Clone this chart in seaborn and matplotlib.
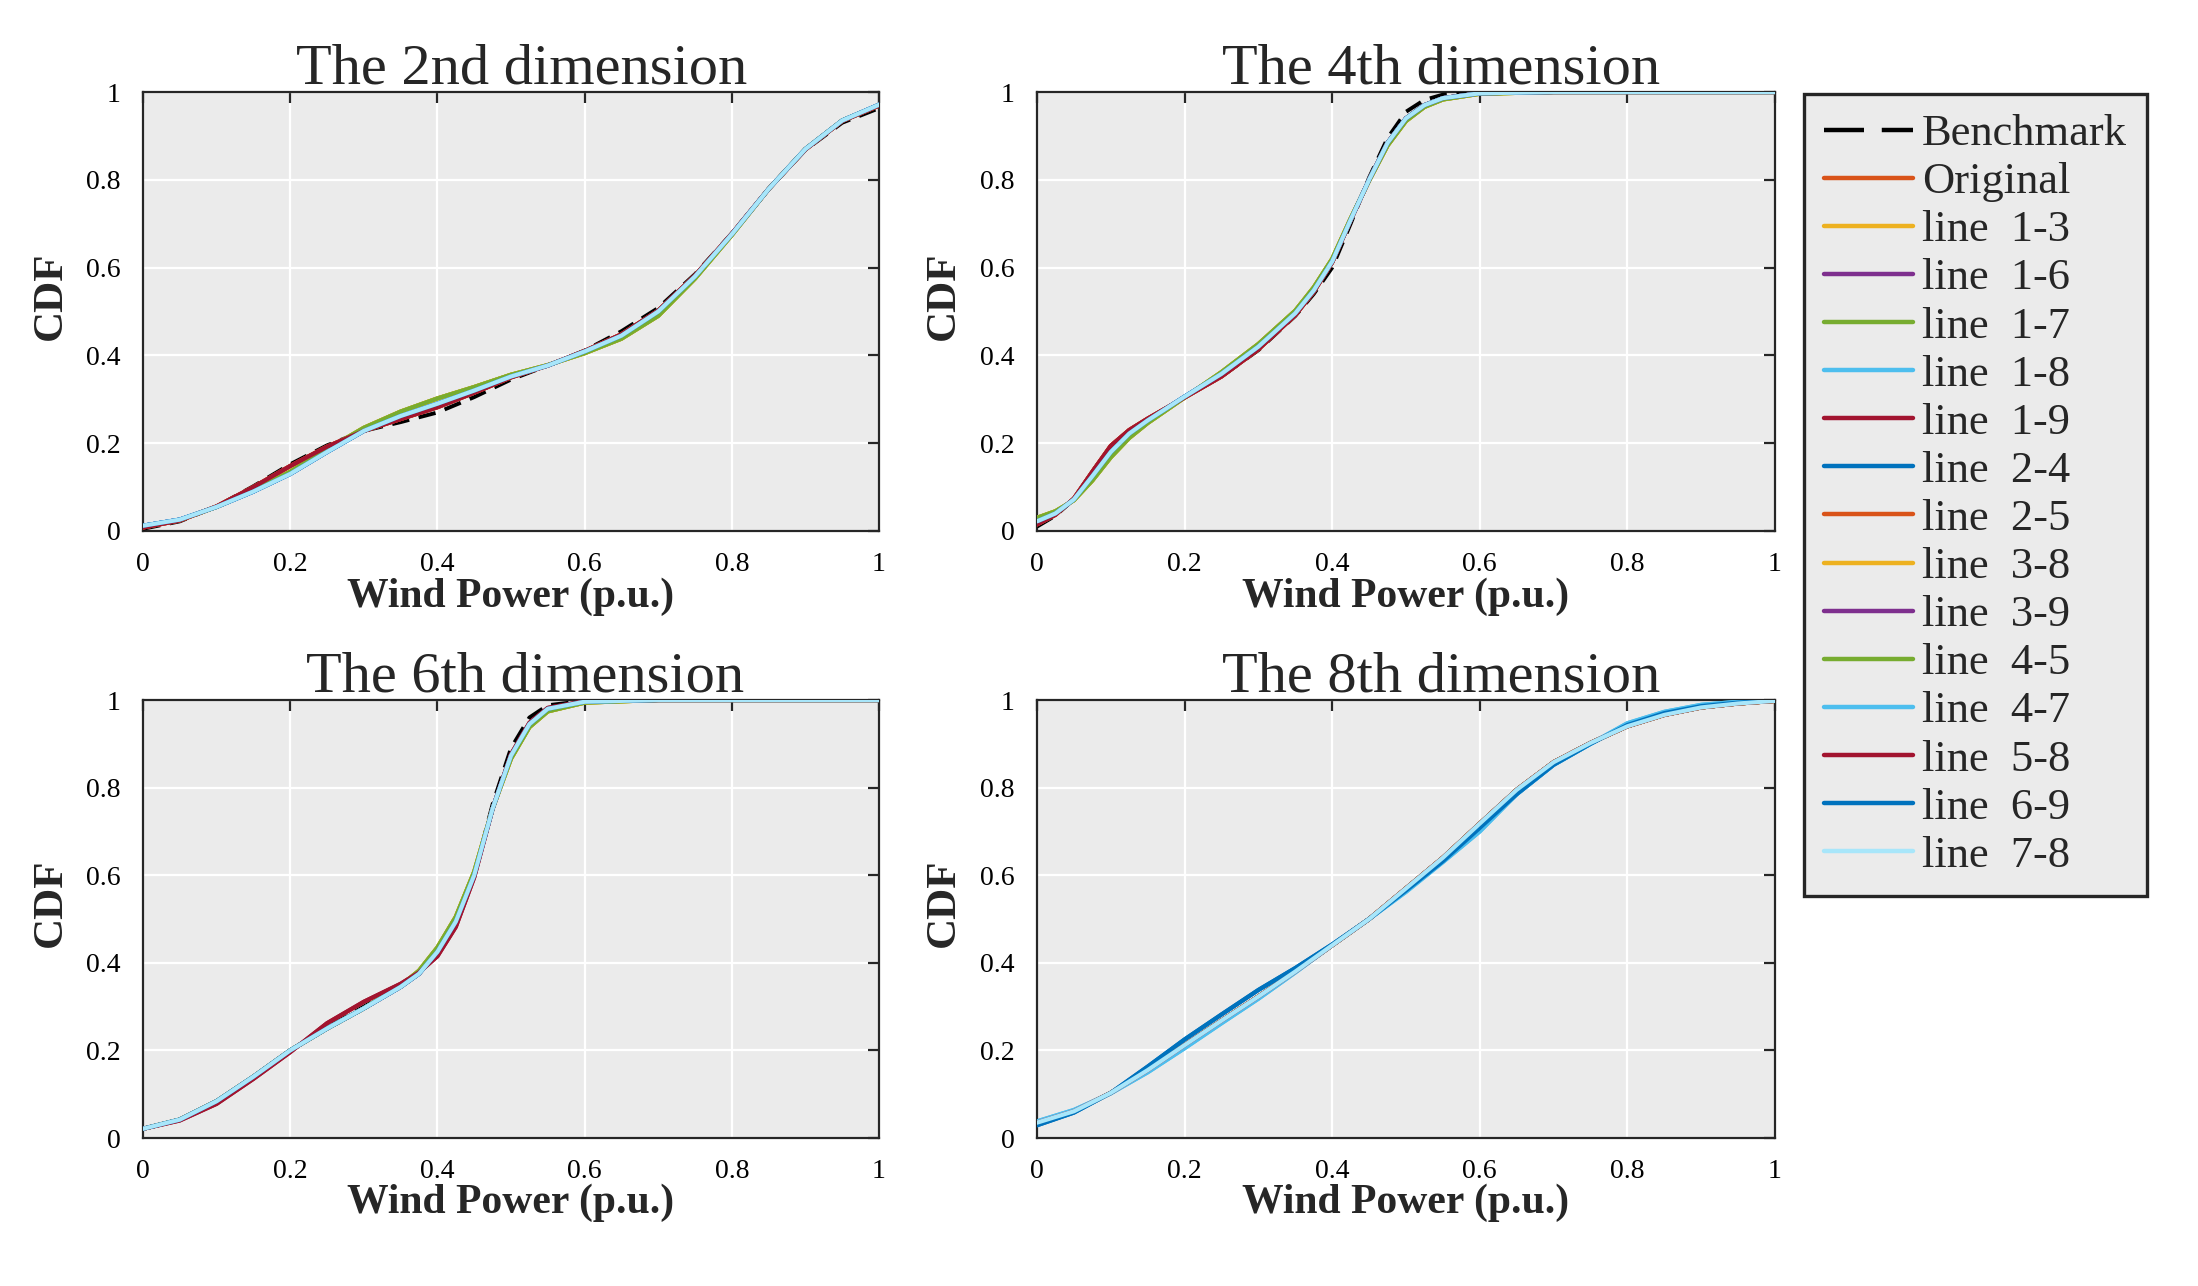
import numpy as np
import pandas as pd
import matplotlib
matplotlib.use("Agg")
import matplotlib.pyplot as plt
from matplotlib.lines import Line2D
import seaborn as sns

# -------------------- series / legend --------------------
series_names = ["Benchmark", "Original", "line  1-3", "line  1-6", "line  1-7", "line  1-8",
                "line  1-9", "line  2-4", "line  2-5", "line  3-8", "line  3-9", "line  4-5",
                "line  4-7", "line  5-8", "line  6-9", "line  7-8"]
series_colors = ["#000000", "#D95319", "#EDB120", "#7E2F8E", "#77AC30", "#4DBEEE",
                 "#A2142F", "#0072BD", "#D95319", "#EDB120", "#7E2F8E", "#77AC30",
                 "#4DBEEE", "#A2142F", "#0072BD", "#A8E6FA"]

tick_vals = [0, 0.2, 0.4, 0.6, 0.8, 1]
tick_labels = ["0", "0.2", "0.4", "0.6", "0.8", "1"]

# -------------------- 2nd dimension --------------------
x_dim2 = [0, 0.05, 0.1, 0.15, 0.2, 0.25, 0.3, 0.35, 0.4, 0.45, 0.5,
          0.55, 0.6, 0.65, 0.7, 0.75, 0.8, 0.85, 0.9, 0.95, 1.0]
dim2_main = [0.012, 0.026, 0.055, 0.090, 0.130, 0.180, 0.228, 0.262, 0.290, 0.320, 0.352,
             0.377, 0.409, 0.445, 0.500, 0.580, 0.676, 0.779, 0.870, 0.935, 0.971]
dim2_bench = [0.005, 0.022, 0.056, 0.102, 0.152, 0.195, 0.228, 0.248, 0.270, 0.305, 0.345,
              0.377, 0.411, 0.455, 0.508, 0.585, 0.678, 0.779, 0.868, 0.930, 0.963]
dim2_red = [0.008, 0.024, 0.056, 0.100, 0.148, 0.192, 0.228, 0.255, 0.282, 0.315, 0.350,
            0.377, 0.410, 0.448, 0.502, 0.582, 0.677, 0.779, 0.869, 0.934, 0.969]
dim2_alt = [0.010, 0.025, 0.055, 0.092, 0.135, 0.186, 0.235, 0.272, 0.302, 0.328, 0.356,
            0.378, 0.405, 0.438, 0.490, 0.575, 0.674, 0.779, 0.870, 0.935, 0.970]
dim2_pick = [1, 2, 3, 0, 3, 0, 2, 0, 2, 3, 0, 3, 0, 2, 0, 0]

# -------------------- 4th dimension --------------------
x_dim4 = [0, 0.025, 0.05, 0.075, 0.1, 0.125, 0.15, 0.2, 0.25, 0.3, 0.35, 0.375,
          0.4, 0.425, 0.45, 0.475, 0.5, 0.525, 0.55, 0.6, 0.7, 0.8, 0.9, 1.0]
dim4_main = [0.022, 0.040, 0.072, 0.125, 0.180, 0.222, 0.252, 0.306, 0.358, 0.420, 0.496, 0.548,
             0.614, 0.709, 0.800, 0.884, 0.940, 0.970, 0.986, 0.997, 1.0, 1.0, 1.0, 1.0]
dim4_bench = [0.010, 0.035, 0.072, 0.135, 0.192, 0.228, 0.255, 0.305, 0.352, 0.412, 0.490, 0.540,
              0.600, 0.700, 0.805, 0.895, 0.955, 0.982, 0.994, 0.999, 1.0, 1.0, 1.0, 1.0]
dim4_red = [0.015, 0.037, 0.074, 0.135, 0.194, 0.230, 0.256, 0.304, 0.352, 0.414, 0.492, 0.545,
            0.612, 0.708, 0.800, 0.884, 0.940, 0.970, 0.986, 0.997, 1.0, 1.0, 1.0, 1.0]
dim4_alt = [0.030, 0.045, 0.070, 0.115, 0.168, 0.212, 0.246, 0.304, 0.362, 0.426, 0.502, 0.555,
            0.620, 0.712, 0.798, 0.878, 0.934, 0.966, 0.983, 0.996, 1.0, 1.0, 1.0, 1.0]
dim4_pick = [1, 2, 3, 0, 3, 0, 2, 0, 2, 3, 0, 3, 0, 2, 0, 0]

# -------------------- 6th dimension --------------------
x_dim6 = [0, 0.05, 0.1, 0.15, 0.2, 0.25, 0.3, 0.35, 0.375, 0.4, 0.425,
          0.45, 0.475, 0.5, 0.525, 0.55, 0.6, 0.7, 0.8, 0.9, 1.0]
dim6_main = [0.021, 0.042, 0.084, 0.140, 0.200, 0.250, 0.296, 0.345, 0.375, 0.425, 0.494,
             0.600, 0.752, 0.873, 0.945, 0.980, 0.996, 1.0, 1.0, 1.0, 1.0]
dim6_red = [0.021, 0.040, 0.078, 0.135, 0.196, 0.262, 0.311, 0.352, 0.378, 0.415, 0.482,
            0.595, 0.752, 0.876, 0.948, 0.982, 0.997, 1.0, 1.0, 1.0, 1.0]
dim6_bench = [0.021, 0.042, 0.084, 0.140, 0.200, 0.252, 0.300, 0.348, 0.376, 0.422, 0.490,
              0.600, 0.762, 0.890, 0.960, 0.988, 0.998, 1.0, 1.0, 1.0, 1.0]
dim6_alt = [0.021, 0.042, 0.084, 0.140, 0.200, 0.250, 0.296, 0.348, 0.382, 0.435, 0.505,
            0.608, 0.752, 0.866, 0.938, 0.974, 0.994, 1.0, 1.0, 1.0, 1.0]
dim6_pick = [2, 0, 3, 0, 3, 0, 1, 0, 0, 3, 0, 3, 0, 1, 0, 0]

# -------------------- 8th dimension --------------------
x_dim8 = [0, 0.05, 0.1, 0.15, 0.2, 0.25, 0.3, 0.35, 0.4, 0.45, 0.5,
          0.55, 0.6, 0.65, 0.7, 0.75, 0.8, 0.85, 0.9, 0.95, 1.0]
dim8_main = [0.035, 0.061, 0.103, 0.155, 0.212, 0.268, 0.323, 0.380, 0.440, 0.500, 0.570,
             0.640, 0.718, 0.795, 0.858, 0.902, 0.940, 0.966, 0.983, 0.992, 0.998]
dim8_dark = [0.029, 0.058, 0.103, 0.163, 0.225, 0.282, 0.338, 0.388, 0.442, 0.500, 0.565,
             0.632, 0.708, 0.785, 0.852, 0.900, 0.943, 0.970, 0.986, 0.994, 0.999]
dim8_light = [0.038, 0.064, 0.102, 0.150, 0.205, 0.262, 0.318, 0.378, 0.440, 0.500, 0.562,
              0.630, 0.700, 0.785, 0.852, 0.900, 0.947, 0.973, 0.989, 0.996, 0.999]
dim8_pick = [0, 0, 0, 0, 0, 2, 0, 1, 0, 0, 0, 0, 2, 0, 1, 0]

panels = [
    ("The 2nd dimension", x_dim2, [dim2_main, dim2_bench, dim2_red, dim2_alt], dim2_pick),
    ("The 4th dimension", x_dim4, [dim4_main, dim4_bench, dim4_red, dim4_alt], dim4_pick),
    ("The 6th dimension", x_dim6, [dim6_main, dim6_red, dim6_bench, dim6_alt], dim6_pick),
    ("The 8th dimension", x_dim8, [dim8_main, dim8_dark, dim8_light], dim8_pick),
]

# -------------------- style --------------------
sns.set_theme(style="whitegrid", rc={
    "axes.facecolor": "#EBEBEB",
    "grid.color": "white",
    "grid.linewidth": 1.6,
    "axes.edgecolor": "#262626",
    "axes.linewidth": 1.6,
})
plt.rcParams["font.family"] = ["Liberation Serif", "DejaVu Serif"]

W, H = 2198, 1286
fig = plt.figure(figsize=(W / 100, H / 100), dpi=100)

# axes boxes in pixels: left, top, right, bottom
boxes = [(143, 92, 879, 531), (1037, 92, 1775, 531),
         (143, 700, 879, 1138), (1037, 700, 1775, 1138)]
title_x = [0.514, 0.548, 0.519, 0.547]

for k, ((title, xs, curves, pick), (l, t, r, b)) in enumerate(zip(panels, boxes)):
    ax = fig.add_axes([l / W, 1 - b / H, (r - l) / W, (b - t) / H])
    for i, name in enumerate(series_names):
        ys = curves[pick[i]]
        if i == 0:
            sns.lineplot(x=xs, y=ys, ax=ax, color=series_colors[i], linewidth=2.8,
                         linestyle=(0, (4.5, 2.5)), errorbar=None, zorder=3)
        else:
            sns.lineplot(x=xs, y=ys, ax=ax, color=series_colors[i], linewidth=3.0,
                         errorbar=None, zorder=3)
    ax.set_xlim(0, 1)
    ax.set_ylim(0, 1)
    ax.set_xticks(tick_vals)
    ax.set_xticklabels(tick_labels)
    ax.set_yticks(tick_vals)
    ax.set_yticklabels(tick_labels)
    ax.tick_params(direction="in", length=8, width=1.6, labelsize=20,
                   top=True, right=True, colors="#262626", labelcolor="black")
    ax.tick_params(axis="x", pad=15)
    ax.tick_params(axis="y", pad=16)
    ax.set_title(title, fontsize=42, pad=6, x=title_x[k])
    ax.set_xlabel("Wind Power (p.u.)", fontsize=30, fontweight="bold")
    ax.set_ylabel("CDF", fontsize=31, fontweight="bold")
    ax.xaxis.set_label_coords(0.5, -0.105)
    ax.yaxis.set_label_coords(-0.10, 0.537)
    for s in ax.spines.values():
        s.set_visible(True)
        s.set_color("#262626")

handles = []
for i, name in enumerate(series_names):
    if i == 0:
        handles.append(Line2D([], [], color="black", lw=3.2, dashes=(9, 4)))
    else:
        handles.append(Line2D([], [], color=series_colors[i], lw=3.2))

leg = fig.legend(handles, series_names, loc="upper left",
                 bbox_to_anchor=(1804 / W, 1 - 94 / H), fontsize=32,
                 frameon=True, fancybox=False, facecolor="#EBEBEB", edgecolor="#262626",
                 framealpha=1, labelspacing=0.18, handlelength=2.0, handletextpad=0.2,
                 borderpad=0.45, borderaxespad=0)
leg.get_frame().set_linewidth(2.4)

fig.savefig("out.png", dpi=100, facecolor="white")
